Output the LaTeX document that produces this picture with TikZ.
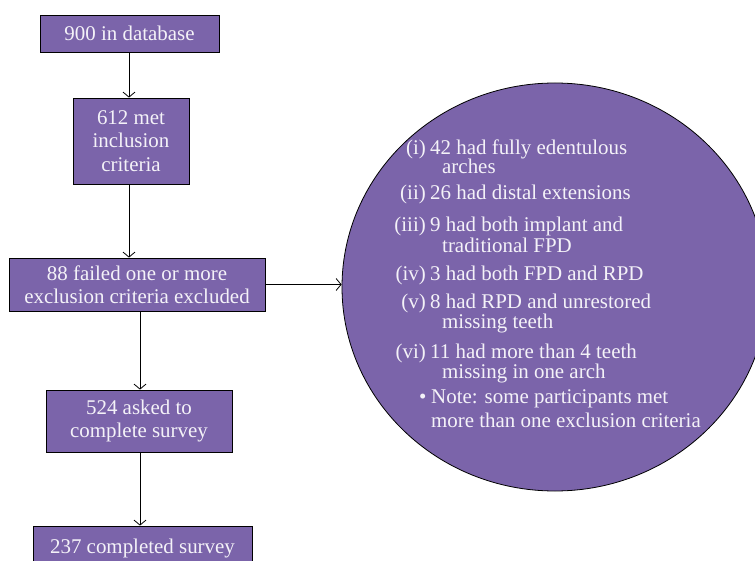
\documentclass[tikz,border=0pt]{standalone}
\usepackage{fontspec}
\setmainfont{Liberation Serif}
\usetikzlibrary{shapes.geometric,arrows.meta}
\definecolor{boxfill}{RGB}{123,100,170}
\definecolor{txt}{RGB}{244,242,248}
\tikzset{
  box/.style={draw=black,line width=0.8bp,fill=boxfill,rectangle,inner sep=0pt,
    text=txt,align=center,font=\fontsize{21}{23.5}\selectfont},
  arr/.style={draw=black,line width=0.8bp,-{Straight Barb[length=5bp,width=12bp]}},
  lab/.style={text=txt,inner sep=0pt,anchor=base east,font=\fontsize{21}{23.5}\selectfont},
  itm/.style={text=txt,inner sep=0pt,anchor=base west,font=\fontsize{21}{23.5}\selectfont}
}
\begin{document}
\begin{tikzpicture}[x=1bp,y=-1bp]
\useasboundingbox (0,0) rectangle (755,561);
\clip (0,0) rectangle (755,561);
\fill[white] (0,0) rectangle (755,561);
\node[box,minimum width=179bp,minimum height=37bp] (b1) at (129.5,33.5) {900 in database};
\node[box,minimum width=116bp,minimum height=86bp] (b2) at (131,141) {612 met\\inclusion\\criteria};
\node[box,minimum width=256bp,minimum height=53bp] (b3) at (137,284.5) {88 failed one or more\\exclusion criteria excluded};
\node[box,minimum width=186bp,minimum height=62bp] (b4) at (139,421) {524 asked to\\complete survey};
\node[box,minimum width=219bp,minimum height=44bp] (b5) at (142.5,548) {237 completed survey};
\node[draw=black,line width=0.8bp,fill=boxfill,ellipse,inner sep=0pt,minimum width=426bp,minimum height=408bp] (ell) at (555,287) {};
\coordinate (c12) at (129,0);
\coordinate (c34) at (140,0);
\draw[arr] (c12 |- b1.south) -- (c12 |- b2.north);
\draw[arr] (c12 |- b2.south) -- (c12 |- b3.north);
\draw[arr] (c34 |- b3.south) -- (c34 |- b4.north);
\draw[arr] (c34 |- b4.south) -- (c34 |- b5.north);
\draw[arr] (b3.east) -- (b3.east -| ell.west);
% ellipse texts
\node[lab] (l1) at (426,155) {(i)};
\node[itm] (t1) at (430,155) {42 had fully edentulous};
\node[itm] (t1b) at (442,174) {arches};
\node[lab] (l2) at (426,200) {(ii)};
\node[itm] (t2) at (430,200) {26 had distal extensions};
\node[lab] (l3) at (426,232) {(iii)};
\node[itm] (t3) at (430,232) {9 had both implant and};
\node[itm] (t3b) at (442,253) {traditional FPD};
\node[lab] (l4) at (426,281) {(iv)};
\node[itm] (t4) at (430,281) {3 had both FPD and RPD};
\node[lab] (l5) at (426,308) {(v)};
\node[itm] (t5) at (430,308) {8 had RPD and unrestored};
\node[itm] (t5b) at (442,328) {missing teeth};
\node[lab] (l6) at (426,358) {(vi)};
\node[itm] (t6) at (430,358) {11 had more than 4 teeth};
\node[itm] (t6b) at (442,378) {missing in one arch};
\node[itm] (bul) at (419,403) {•};
\node[itm] (t7) at (431,403) {Note: some participants met};
\node[itm] (t7b) at (431,427) {more than one exclusion criteria};
\end{tikzpicture}
\end{document}
